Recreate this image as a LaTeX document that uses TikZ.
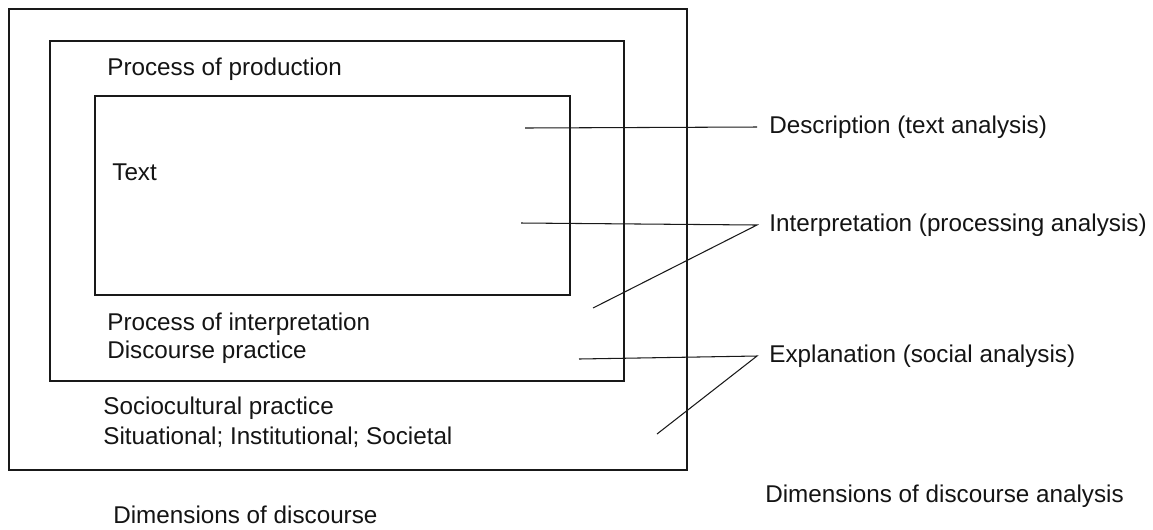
\documentclass[tikz,border=0pt]{standalone}
\usepackage{fontspec}
\setmainfont{Liberation Sans}
\usetikzlibrary{positioning, calc}
\definecolor{inkline}{RGB}{25,25,25}
\definecolor{inktext}{RGB}{20,20,20}
\tikzset{
  frame/.style={
    rectangle, draw=inkline, line width=1.2pt,
    inner sep=0pt, fill=none
  },
  levellabel/.style={
    anchor=west, inner sep=0pt,
    font=\fontsize{13.8}{16}\selectfont, text=inktext
  },
  analysislabel/.style={
    anchor=west, inner sep=0pt, xshift=0.24cm,
    font=\fontsize{13.8}{16}\selectfont, text=inktext
  },
  leader/.style={draw=inkline, line width=0.6pt}
}

\begin{document}
\begin{tikzpicture}[x=0.02cm, y=-0.02cm]

\useasboundingbox (0,0) rectangle (1153,529);

% ═══════════════════════════════════════════════════════════════════
% NESTED FRAMES
% ═══════════════════════════════════════════════════════════════════

\node[frame, minimum width=13.56cm, minimum height=9.22cm]
  (socio) at (348,239.5) {};

\node[frame, minimum width=11.48cm, minimum height=6.80cm]
  (discourse) at (337,211) {};

\node[frame, minimum width=9.50cm, minimum height=3.98cm]
  (textbox) at (332.5,195.5) {};

% ── labels inside the frames ─────────────────────────────────────
\node[levellabel] (production)  at (107,69)  {Process of production};
\node[levellabel] (textlbl)     at (112,172) {Text};
\node[levellabel] (interpret)   at (107,324) {Process of interpretation};
\node[levellabel] (practice)    at (107,352) {Discourse practice};
\node[levellabel] (sociolbl)    at (103,408) {Sociocultural practice};
\node[levellabel] (levels)      at (103,437) {Situational; Institutional; Societal};

% ═══════════════════════════════════════════════════════════════════
% ANALYSIS LABELS
% ═══════════════════════════════════════════════════════════════════

\node[analysislabel] (description)    at (757,127) {Description (text analysis)};
\node[analysislabel] (interpretation) at (757,225) {Interpretation (processing analysis)};
\node[analysislabel] (explanation)    at (757,356) {Explanation (social analysis)};

% ── captions ─────────────────────────────────────────────────────
\node[levellabel] (capleft)  at (113,515) {Dimensions of discourse};
\node[levellabel] (capright) at (765,496) {Dimensions of discourse analysis};

% ═══════════════════════════════════════════════════════════════════
% LEADER LINES
% ═══════════════════════════════════════════════════════════════════

\coordinate (dtext)  at (525,128);
\coordinate (itext)  at (521,223);
\coordinate (iprac)  at (593,308);
\coordinate (eprac)  at (579,359);
\coordinate (esocio) at (657,434);

\draw[leader] (dtext) -- ([xshift=-0.24cm]description.west);
\draw[leader] (itext) -- ([xshift=-0.24cm]interpretation.west) -- (iprac);
\draw[leader] (eprac) -- ([xshift=-0.24cm]explanation.west) -- (esocio);

\end{tikzpicture}
\end{document}
